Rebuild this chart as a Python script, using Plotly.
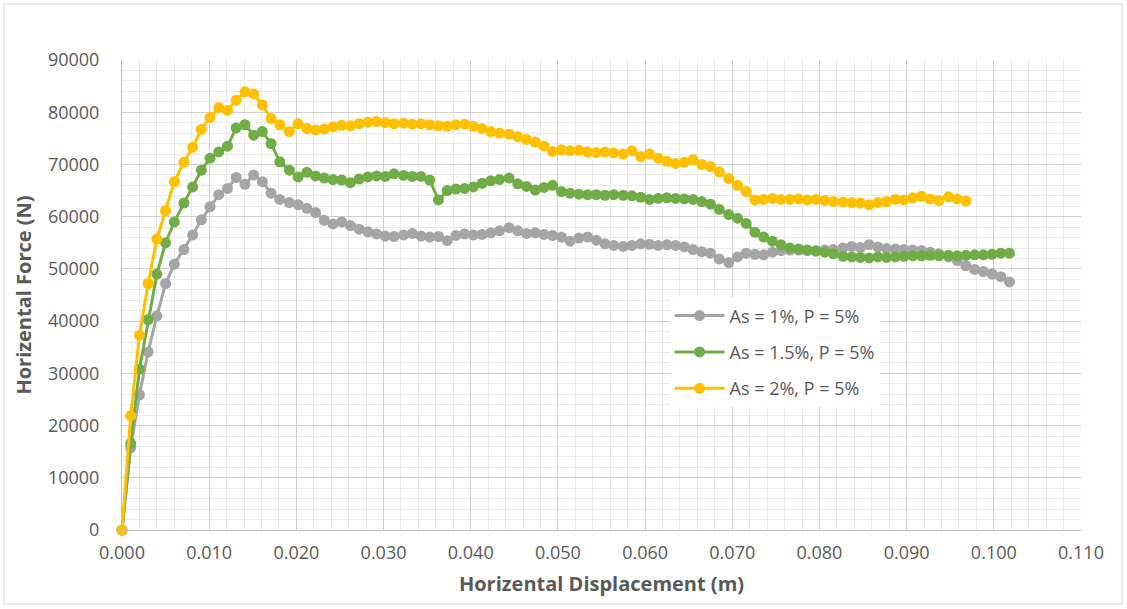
import plotly.graph_objects as go

# Horizontal displacement (m) sample positions
displacement = [
    0.0000, 0.0010, 0.0020, 0.0030, 0.0040, 0.0050, 0.0060, 0.0071, 0.0081, 0.0091,
    0.0101, 0.0111, 0.0121, 0.0131, 0.0141, 0.0151, 0.0161, 0.0171, 0.0181, 0.0192,
    0.0202, 0.0212, 0.0222, 0.0232, 0.0242, 0.0252, 0.0262, 0.0272, 0.0282, 0.0292,
    0.0302, 0.0312, 0.0323, 0.0333, 0.0343, 0.0353, 0.0363, 0.0373, 0.0383, 0.0393,
    0.0403, 0.0413, 0.0423, 0.0433, 0.0444, 0.0454, 0.0464, 0.0474, 0.0484, 0.0494,
    0.0504, 0.0514, 0.0524, 0.0534, 0.0544, 0.0554, 0.0564, 0.0575, 0.0585, 0.0595,
    0.0605, 0.0615, 0.0625, 0.0635, 0.0645, 0.0655, 0.0665, 0.0675, 0.0685, 0.0696,
    0.0706, 0.0716, 0.0726, 0.0736, 0.0746, 0.0756, 0.0766, 0.0776, 0.0786, 0.0796,
    0.0806, 0.0816, 0.0827, 0.0837, 0.0847, 0.0857, 0.0867, 0.0877, 0.0887, 0.0897,
    0.0907, 0.0917, 0.0927, 0.0937, 0.0948, 0.0958, 0.0968, 0.0978, 0.0988, 0.0998,
    0.1008, 0.1018,
]

# Horizontal force (N) for As = 1%, P = 5%
force_as1 = [
    0, 15800, 25900, 34100, 41000, 47200, 50900, 53700, 56500, 59400,
    61900, 64200, 65400, 67500, 66200, 68000, 66700, 64500, 63300, 62700,
    62300, 61600, 60800, 59300, 58600, 59000, 58300, 57600, 57100, 56700,
    56300, 56200, 56500, 56800, 56300, 56100, 56200, 55400, 56400, 56700,
    56500, 56600, 56900, 57300, 57900, 57300, 56800, 56900, 56600, 56400,
    56100, 55300, 55900, 56100, 55500, 54800, 54500, 54300, 54500, 54800,
    54700, 54500, 54600, 54500, 54200, 53700, 53300, 53000, 51900, 51200,
    52300, 53000, 52800, 52700, 53200, 53500, 53600, 53600, 53500, 53500,
    53600, 53700, 54000, 54300, 54100, 54600, 54200, 53900, 53800, 53700,
    53600, 53500, 53200, 52900, 52300, 51600, 50600, 49900, 49500, 49000,
    48500, 47500,
]

# Horizontal force (N) for As = 1.5%, P = 5%
force_as15 = [
    0, 16600, 30800, 40300, 49000, 55000, 59000, 62600, 65700, 68900,
    71200, 72400, 73500, 77000, 77600, 75600, 76300, 74000, 70500, 68900,
    67600, 68500, 67800, 67400, 67100, 67000, 66500, 67200, 67600, 67800,
    67700, 68200, 67900, 67700, 67700, 67000, 63200, 65000, 65300, 65400,
    65700, 66400, 66900, 67100, 67400, 66300, 65800, 65100, 65600, 66000,
    64800, 64500, 64300, 64200, 64200, 64100, 64200, 64100, 64000, 63700,
    63300, 63500, 63600, 63500, 63400, 63300, 62900, 62400, 61400, 60400,
    59700, 58700, 57000, 56100, 55300, 54600, 54000, 53800, 53600, 53400,
    53200, 52900, 52400, 52300, 52200, 52100, 52300, 52200, 52300, 52400,
    52500, 52500, 52600, 52500, 52600, 52500, 52600, 52700, 52700, 52800,
    53000, 53000,
]

# Horizontal force (N) for As = 2%, P = 5%
force_as2 = [
    0, 21900, 37300, 47200, 55700, 61150, 66700, 70400, 73300, 76700,
    79000, 80900, 80400, 82300, 83900, 83500, 81400, 78800, 77600, 76300,
    77800, 76900, 76600, 76800, 77200, 77500, 77400, 77800, 78100, 78200,
    78000, 77800, 77900, 77700, 77800, 77600, 77400, 77300, 77600, 77700,
    77300, 76900, 76300, 76000, 75800, 75300, 74800, 74300, 73500, 72500,
    72800, 72600, 72700, 72400, 72300, 72400, 72200, 72000, 72600, 71500,
    72000, 71200, 70600, 70200, 70400, 70900, 70000, 69600, 68600, 67300,
    66000, 64800, 63200, 63300, 63500, 63300, 63300, 63400, 63200, 63300,
    63100, 62900, 62800, 62700, 62600, 62300, 62700, 62900, 63300, 63200,
    63600, 63900, 63400, 63100, 63800, 63400, 63000,
]

series_names = ["As = 1%, P = 5%", "As = 1.5%, P = 5%", "As = 2%, P = 5%"]
series_values = [force_as1, force_as15, force_as2]
series_colors = ["#A5A5A5", "#70AD47", "#FFC000"]

x_ticks = [0.0, 0.01, 0.02, 0.03, 0.04, 0.05, 0.06, 0.07, 0.08, 0.09, 0.10, 0.11]
y_ticks = [0, 10000, 20000, 30000, 40000, 50000, 60000, 70000, 80000, 90000]

FONT = "Open Sans"
TXT = "#595959"

fig = go.Figure()
for i, (name, vals, col) in enumerate(zip(series_names, series_values, series_colors)):
    fig.add_trace(go.Scatter(
        x=displacement[:len(vals)], y=vals, name=name,
        mode="lines+markers",
        line=dict(color=col, width=3),
        marker=dict(color=col, size=11, line=dict(width=0)),
        cliponaxis=False,
        legendgroup="g%d" % i,
    ))

fig.update_layout(
    width=1127, height=609,
    margin=dict(l=122, r=46, t=60, b=79),
    paper_bgcolor="white", plot_bgcolor="white",
    font=dict(family=FONT, color=TXT, size=18),
    showlegend=True,
    legend=dict(
        x=0.571, y=0.495, xanchor="left", yanchor="top",
        bgcolor="white", borderwidth=0,
        font=dict(family=FONT, size=18, color=TXT),
        tracegroupgap=10, itemwidth=50,
    ),
    xaxis=dict(
        range=[0, 0.11], tickvals=x_ticks, tickformat=".3f",
        showgrid=True, gridcolor="#D0D0D0", gridwidth=1,
        minor=dict(dtick=0.002, showgrid=True, gridcolor="#EBEBEB", gridwidth=1),
        showline=True, linecolor="#BFBFBF", linewidth=1,
        zeroline=False, ticks="",
        tickfont=dict(family=FONT, size=18, color=TXT),
        ticklabelstandoff=6,
        title=dict(text="<b>Horizental Displacement (m)</b>",
                   font=dict(family=FONT, size=20, color=TXT), standoff=14),
    ),
    yaxis=dict(
        range=[0, 90000], tickvals=y_ticks, tickformat="d",
        showgrid=True, gridcolor="#D0D0D0", gridwidth=1,
        minor=dict(dtick=2000, showgrid=True, gridcolor="#EBEBEB", gridwidth=1),
        showline=True, linecolor="#BFBFBF", linewidth=1,
        zeroline=False, ticks="",
        tickfont=dict(family=FONT, size=18, color=TXT),
        ticklabelstandoff=18,
        title=dict(text="<b>Horizental Force (N)</b>",
                   font=dict(family=FONT, size=20, color=TXT), standoff=10),
    ),
    shapes=[dict(type="rect", xref="paper", yref="paper",
                 x0=-0.1230, x1=1.0428, y0=-0.1574, y1=1.1191,
                 line=dict(color="#D9D9D9", width=1), fillcolor="rgba(0,0,0,0)",
                 layer="below")],
)

fig.write_html("out.html")
